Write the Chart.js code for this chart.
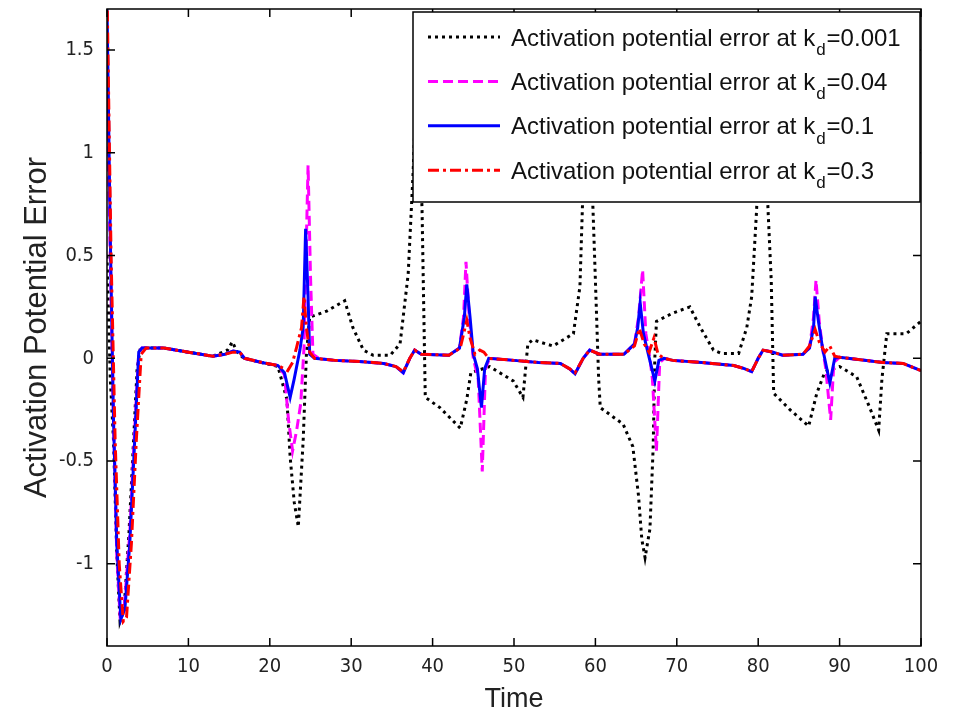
<!DOCTYPE html>
<html>
<head>
<meta charset="utf-8">
<script src="https://cdn.jsdelivr.net/npm/chart.js@4.4.0/dist/chart.umd.min.js"></script>
<style>
  html, body { margin: 0; padding: 0; background: #fff; }
</style>
</head>
<body>
<canvas id="errChart" width="953" height="717"></canvas>
<script>
// tick values and legend labels
const xTicks = [0, 10, 20, 30, 40, 50, 60, 70, 80, 90, 100];
const yTicks = [-1, -0.5, 0, 0.5, 1, 1.5];
const kdValues = ["0.001", "0.04", "0.1", "0.3"];

// [time, error]
const errKd0001 = [[0,0.5],[0.4,-0.1],[0.8,-0.4],[1.2,-0.95],[1.6,-1.28],[2.1,-1.22],[2.7,-0.85],[3.2,-0.45],[3.7,-0.05],[4.1,0.05],
  [7,0.05],[10,0.03],[13,0.01],[14.8,0.04],[15.4,0.08],[16,0.03],[16.8,0.0],[19,-0.02],[21,-0.04],[22.1,-0.2],
  [22.5,-0.48],[23.0,-0.7],[23.5,-0.82],[24.1,-0.4],[24.5,0.02],[24.9,0.2],[27,0.23],[29.2,0.28],[30.2,0.15],[31.5,0.04],
  [32.7,0.015],[34.8,0.015],[36.0,0.07],[37.0,0.41],[37.6,0.9],[38.1,1.4],[38.7,0.73],[39.1,-0.19],[40.9,-0.24],[43.4,-0.34],
  [44.2,-0.2],[44.7,-0.07],[47,-0.04],[49.9,-0.11],[51.1,-0.19],[51.7,0.07],[52.3,0.09],[54.8,0.06],[57.3,0.12],[58.1,0.35],
  [58.4,0.73],[59.0,1.4],[59.7,0.73],[60.0,0.38],[60.4,-0.1],[60.6,-0.24],[63.4,-0.32],[64.6,-0.43],[65.3,-0.67],[65.7,-0.88],
  [66.1,-0.97],[66.7,-0.83],[67.1,-0.43],[67.3,0.0],[67.5,0.18],[69.5,0.22],[71.6,0.25],[72.9,0.15],[74.5,0.04],[75.5,0.024],
  [77.6,0.024],[78.6,0.15],[79.2,0.3],[79.8,0.72],[80.5,1.4],[81.2,0.73],[81.6,0.38],[81.9,-0.17],[83.9,-0.25],[86.2,-0.33],
  [87.2,-0.17],[88.2,-0.065],[90,-0.04],[92.1,-0.09],[93.7,-0.24],[94.8,-0.35],[95.2,-0.1],[95.8,0.12],[98.2,0.12],[100,0.18]];

const errKd004 = [[0,1.25],[0.4,0.5],[0.8,-0.3],[1.2,-0.95],[1.6,-1.25],[2.1,-1.22],[2.8,-0.85],[3.4,-0.35],[3.9,0.03],[4.3,0.05],
  [7,0.05],[10,0.03],[13,0.01],[14.5,0.02],[15.5,0.035],[16.3,0.03],[16.9,0.0],[19,-0.02],[21,-0.035],[21.8,-0.08],
  [22.3,-0.3],[22.8,-0.45],[23.3,-0.35],[23.8,-0.22],[24.2,0.05],[24.45,0.5],[24.7,0.94],[25.0,0.4],[25.3,0.02],[26,0.0],
  [28,-0.01],[31,-0.015],[34,-0.025],[35.5,-0.04],[36.4,-0.07],[37.2,0.0],[37.8,0.04],[38.6,0.02],[42,0.015],[43.3,0.05],
  [43.8,0.2],[44.1,0.47],[44.5,0.2],[45.0,0.0],[45.6,-0.1],[46.1,-0.55],[46.5,-0.05],[47,0.0],[50,-0.01],[53,-0.02],
  [55.7,-0.025],[56.8,-0.05],[57.5,-0.075],[58.5,0.0],[59.3,0.04],[60.5,0.02],[63.5,0.02],[64.8,0.07],[65.3,0.2],[65.8,0.43],
  [66.2,0.12],[66.7,0.0],[67.0,-0.1],[67.5,-0.45],[67.9,-0.02],[68.5,0.0],[69.5,-0.01],[73,-0.02],[77,-0.035],[78.3,-0.05],
  [79.2,-0.065],[80,0.0],[80.6,0.04],[81.8,0.03],[83,0.015],[85.5,0.02],[86.3,0.05],[86.8,0.2],[87.1,0.38],[87.5,0.18],
  [87.9,0.05],[88.3,-0.05],[88.9,-0.3],[89.3,-0.02],[90,0.005],[95.3,-0.02],[97.8,-0.025],[100,-0.06]];

const errKd01 = [[0,1.72],[0.4,0.6],[0.8,-0.3],[1.2,-0.9],[1.7,-1.27],[2.2,-1.22],[2.8,-0.9],[3.4,-0.4],[3.9,0.03],[4.3,0.05],
  [7,0.05],[10,0.03],[13,0.01],[14.5,0.02],[15.5,0.035],[16.3,0.03],[16.9,0.0],[19,-0.02],[21,-0.035],[21.8,-0.07],
  [22.5,-0.19],[23.0,-0.1],[23.7,0.04],[24.1,0.15],[24.4,0.63],[24.7,0.3],[24.9,0.02],[25.5,0.0],[28,-0.01],[31,-0.015],
  [34,-0.025],[35.5,-0.04],[36.4,-0.07],[37.2,0.0],[37.8,0.04],[38.6,0.02],[42,0.015],[43.3,0.05],[43.9,0.2],[44.2,0.36],
  [44.6,0.2],[45.0,0.02],[45.5,-0.05],[46.0,-0.24],[46.4,-0.05],[46.9,0.0],[50,-0.01],[53,-0.02],[55.7,-0.025],[56.8,-0.05],
  [57.5,-0.075],[58.5,0.0],[59.3,0.04],[60.5,0.02],[63.5,0.02],[64.8,0.07],[65.2,0.15],[65.5,0.27],[65.9,0.12],[66.5,0.02],
  [67.3,-0.11],[67.8,-0.01],[68.4,0.0],[69.5,-0.01],[73,-0.02],[77,-0.035],[78.3,-0.05],[79.2,-0.065],[80,0.0],[80.6,0.04],
  [81.8,0.03],[83,0.015],[85.5,0.02],[86.3,0.05],[86.8,0.15],[87.0,0.3],[87.4,0.18],[87.9,0.05],[88.8,-0.12],[89.4,0.0],
  [90,0.005],[95.3,-0.02],[97.8,-0.025],[100,-0.06]];

const errKd03 = [[0,1.8],[0.5,0.5],[1.0,-0.4],[1.5,-1.0],[2.0,-1.28],[2.4,-1.26],[3.0,-0.9],[3.6,-0.4],[4.2,0.02],[4.8,0.05],
  [7,0.05],[10,0.03],[13,0.01],[14.5,0.02],[15.5,0.03],[16.3,0.03],[16.9,0.0],[19,-0.02],[21,-0.035],[22.2,-0.06],
  [22.8,-0.02],[23.3,0.055],[23.9,0.15],[24.2,0.3],[24.5,0.15],[24.9,0.03],[25.5,0.0],[28,-0.01],[31,-0.015],[34,-0.025],
  [35.5,-0.04],[36.4,-0.065],[37.2,0.0],[37.8,0.04],[38.6,0.02],[42,0.015],[43.4,0.05],[44.2,0.185],[44.6,0.1],[45.2,0.02],
  [45.8,0.04],[46.3,0.03],[46.9,0.0],[50,-0.01],[53,-0.02],[55.7,-0.025],[56.8,-0.05],[57.5,-0.07],[58.5,0.0],[59.3,0.04],
  [60.5,0.02],[63.5,0.02],[64.8,0.06],[65.4,0.145],[66.0,0.07],[66.6,0.03],[67.2,0.1],[67.7,0.02],[68.4,0.0],[69.5,-0.01],
  [73,-0.02],[77,-0.035],[78.3,-0.05],[79.2,-0.065],[80,0.0],[80.6,0.04],[81.8,0.03],[83,0.015],[85.5,0.02],[86.3,0.06],
  [87.0,0.14],[87.5,0.08],[88.2,0.03],[88.8,0.06],[89.4,0.01],[90,0.005],[95.3,-0.02],[97.8,-0.025],[100,-0.06]];

const toPoints = arr => arr.map(p => ({ x: p[0], y: p[1] }));

const styles = [
    { color: "#000000", dash: [3, 4], order: 3 },
    { color: "#ff00ff", dash: [10, 5], order: 2 },
    { color: "#0000ff", dash: [], order: 1 },
    { color: "#ff0000", dash: [11, 4, 3, 4], order: 0 }
];
const seriesData = [errKd0001, errKd004, errKd01, errKd03];

const textFont = "'Liberation Sans', Arial, sans-serif";
const tickFont = "'Liberation Sans Narrow', 'DejaVu Sans Condensed', 'Liberation Sans', sans-serif";

// frame, inward ticks on all four sides, and the boxed legend
const matlabFrame = {
    id: "matlabFrame",
    afterDatasetsDraw(chart) {
        const { ctx, chartArea: a, scales: { x, y } } = chart;
        ctx.save();

        ctx.strokeStyle = "#000";
        ctx.lineWidth = 1.5;
        ctx.setLineDash([]);
        ctx.beginPath();
        xTicks.forEach(v => {
            const px = x.getPixelForValue(v);
            ctx.moveTo(px, a.bottom); ctx.lineTo(px, a.bottom - 8);
            ctx.moveTo(px, a.top); ctx.lineTo(px, a.top + 8);
        });
        yTicks.forEach(v => {
            const py = y.getPixelForValue(v);
            ctx.moveTo(a.left, py); ctx.lineTo(a.left + 8, py);
            ctx.moveTo(a.right, py); ctx.lineTo(a.right - 8, py);
        });
        ctx.stroke();

        // legend
        const bw = 507, bh = 190;
        const bx = a.right - bw - 1, by = a.top + 3;
        ctx.fillStyle = "#fff";
        ctx.fillRect(bx, by, bw, bh);
        ctx.strokeRect(bx, by, bw, bh);

        styles.forEach((s, i) => {
            const cy = by + 25 + i * 44.4;
            ctx.beginPath();
            ctx.strokeStyle = s.color;
            ctx.lineWidth = 3;
            ctx.setLineDash(s.dash);
            ctx.moveTo(bx + 15, cy);
            ctx.lineTo(bx + 87, cy);
            ctx.stroke();
            ctx.setLineDash([]);

            ctx.fillStyle = "#111";
            ctx.textBaseline = "alphabetic";
            ctx.textAlign = "left";
            const head = "Activation potential error at k";
            let tx = bx + 98;
            ctx.font = "24px " + textFont;
            ctx.fillText(head, tx, cy + 8.5);
            tx += ctx.measureText(head).width + 1;
            ctx.font = "17px " + textFont;
            ctx.fillText("d", tx, cy + 18);
            tx += ctx.measureText("d").width + 1;
            ctx.font = "24px " + textFont;
            ctx.fillText("=" + kdValues[i], tx, cy + 8.5);
        });

        ctx.strokeStyle = "#000";
        ctx.lineWidth = 1.5;
        ctx.strokeRect(a.left, a.top, a.right - a.left, a.bottom - a.top);
        ctx.restore();
    }
};

new Chart(document.getElementById("errChart").getContext("2d"), {
    type: "line",
    data: {
        datasets: seriesData.map((d, i) => ({
            label: "Activation potential error at kd=" + kdValues[i],
            data: toPoints(d),
            borderColor: styles[i].color,
            borderDash: styles[i].dash,
            borderWidth: 3,
            order: styles[i].order,
            pointRadius: 0,
            tension: 0,
            fill: false
        }))
    },
    options: {
        responsive: false,
        animation: false,
        devicePixelRatio: 1,
        layout: { padding: { top: 9, right: 32, left: 0, bottom: 0 } },
        plugins: { legend: { display: false }, tooltip: { enabled: false } },
        scales: {
            x: {
                type: "linear",
                min: 0,
                max: 100,
                afterBuildTicks: s => { s.ticks = xTicks.map(v => ({ value: v })); },
                afterFit: s => { s.height = 71; s.paddingLeft = 0; s.paddingRight = 0; },
                grid: { display: false, drawTicks: false },
                border: { display: false },
                ticks: { color: "#222", padding: 9, maxRotation: 0, font: { family: tickFont, size: 20 }, callback: v => String(v) },
                title: { display: true, text: "Time", color: "#222", padding: { top: 0, bottom: 1 }, font: { family: textFont, size: 27 } }
            },
            y: {
                type: "linear",
                min: -1.4,
                max: 1.7,
                afterBuildTicks: s => { s.ticks = yTicks.map(v => ({ value: v })); },
                afterFit: s => { s.width = 107; s.paddingTop = 0; s.paddingBottom = 0; },
                grid: { display: false, drawTicks: false },
                border: { display: false },
                ticks: { color: "#222", padding: 13, font: { family: tickFont, size: 20 }, callback: v => String(v) },
                title: { display: true, text: "Activation Potential Error", color: "#222", padding: { top: 19, bottom: 0 }, font: { family: textFont, size: 31 } }
            }
        }
    },
    plugins: [matlabFrame]
});
</script>
</body>
</html>
